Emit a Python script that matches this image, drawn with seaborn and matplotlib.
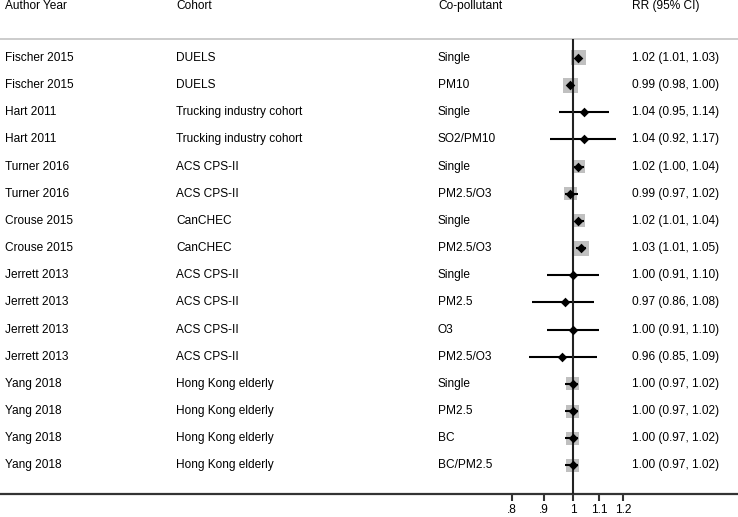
import numpy as np
import pandas as pd
import matplotlib
matplotlib.use("Agg")
import matplotlib.pyplot as plt
import matplotlib.transforms as mtransforms
import seaborn as sns

# study rows, top to bottom
authors = ["Fischer 2015", "Fischer 2015", "Hart 2011", "Hart 2011",
           "Turner 2016", "Turner 2016", "Crouse 2015", "Crouse 2015",
           "Jerrett 2013", "Jerrett 2013", "Jerrett 2013", "Jerrett 2013",
           "Yang 2018", "Yang 2018", "Yang 2018", "Yang 2018"]
cohorts = ["DUELS", "DUELS", "Trucking industry cohort", "Trucking industry cohort",
           "ACS CPS-II", "ACS CPS-II", "CanCHEC", "CanCHEC",
           "ACS CPS-II", "ACS CPS-II", "ACS CPS-II", "ACS CPS-II",
           "Hong Kong elderly", "Hong Kong elderly", "Hong Kong elderly", "Hong Kong elderly"]
copollutants = ["Single", "PM10", "Single", "SO2/PM10",
                "Single", "PM2.5/O3", "Single", "PM2.5/O3",
                "Single", "PM2.5", "O3", "PM2.5/O3",
                "Single", "PM2.5", "BC", "BC/PM2.5"]
rr = [1.02, 0.99, 1.04, 1.04, 1.02, 0.99, 1.02, 1.03,
      1.00, 0.97, 1.00, 0.96, 1.00, 1.00, 1.00, 1.00]
ci_low = [1.01, 0.98, 0.95, 0.92, 1.00, 0.97, 1.01, 1.01,
          0.91, 0.86, 0.91, 0.85, 0.97, 0.97, 0.97, 0.97]
ci_high = [1.03, 1.00, 1.14, 1.17, 1.04, 1.02, 1.04, 1.05,
           1.10, 1.08, 1.10, 1.09, 1.02, 1.02, 1.02, 1.02]
# relative study weights (box area)
weights = [225, 225, 4, 3, 169, 169, 169, 225,
           4, 3, 4, 3, 169, 169, 169, 169]

headers = ["Author Year", "Cohort", "Co-pollutant", "RR (95% CI)"]
tick_vals = [0.8, 0.9, 1.0, 1.1, 1.2]
tick_labels = [".8", ".9", "1", "1.1", "1.2"]

df = pd.DataFrame({"author": authors, "cohort": cohorts, "copoll": copollutants,
                   "rr": rr, "lo": ci_low, "hi": ci_high, "weight": weights})
df["row"] = np.arange(1, len(df) + 1)

sns.set_style("white")
plt.rcParams["font.family"] = ["Liberation Sans", "DejaVu Sans"]
plt.rcParams["text.color"] = "black"
plt.rcParams["xtick.color"] = "black"

fig = plt.figure(figsize=(7.38, 5.17), dpi=100)
ax = fig.add_axes([0, 23 / 517, 1, 494 / 517])
ax.set_xscale("log")
ax.set_xlim(0.1231, 1.828)
ax.set_ylim(17.05, -1.135)

# weight boxes
sns.scatterplot(data=df, x="rr", y="row", size="weight", sizes=(1.55, 116.6),
                size_norm=(3, 225), marker="s", color="#c0c0c0", linewidth=0,
                legend=False, ax=ax, zorder=2)
# confidence intervals
ax.hlines(df["row"], df["lo"], df["hi"], color="black", lw=1.5, zorder=3)
# point estimates
sns.scatterplot(data=df, x="rr", y="row", marker="D", color="black", s=24,
                linewidth=0, legend=False, ax=ax, zorder=4)

# null line and header rule
ax.vlines(1.0, 0.30, 17.05, color="#222222", lw=1.5, zorder=3)
ax.axhline(0.30, color="#c8c8c8", lw=1.3, zorder=1)

trans = mtransforms.blended_transform_factory(ax.transAxes, ax.transData)
col_x = [5 / 738, 176 / 738, 438 / 738, 632 / 738]
fs = 8.6
for cx, h in zip(col_x, headers):
    ax.text(cx, -0.92, h, transform=trans, ha="left", va="center", fontsize=fs)
for _, r in df.iterrows():
    ax.text(col_x[0], r["row"], r["author"], transform=trans, ha="left", va="center", fontsize=fs)
    ax.text(col_x[1], r["row"], r["cohort"], transform=trans, ha="left", va="center", fontsize=fs)
    ax.text(col_x[2], r["row"], r["copoll"], transform=trans, ha="left", va="center", fontsize=fs)
    ax.text(col_x[3], r["row"], f"{r['rr']:.2f} ({r['lo']:.2f}, {r['hi']:.2f})",
            transform=trans, ha="left", va="center", fontsize=fs)

ax.set_xticks(tick_vals)
ax.set_xticklabels(tick_labels, fontsize=fs)
ax.xaxis.set_minor_locator(matplotlib.ticker.NullLocator())
ax.set_yticks([])
ax.set_xlabel("")
ax.set_ylabel("")
ax.tick_params(axis="x", direction="out", length=5, width=1.5, color="#333333", pad=2,
               bottom=True)
for side in ["top", "left", "right"]:
    ax.spines[side].set_visible(False)
ax.spines["bottom"].set_color("#333333")
ax.spines["bottom"].set_linewidth(1.6)

fig.savefig("out.png", dpi=100)
